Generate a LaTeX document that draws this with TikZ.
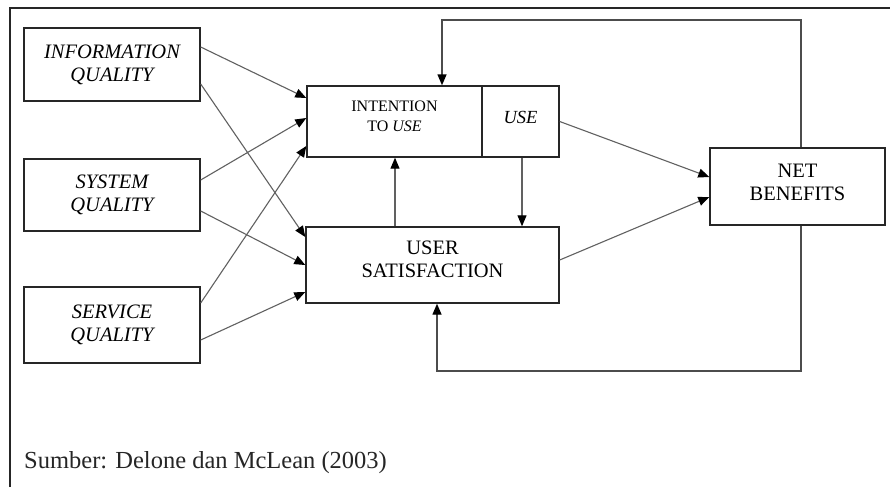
\documentclass[tikz,border=0pt]{standalone}
\usepackage{fontspec}
\setmainfont{Liberation Serif}
\usetikzlibrary{arrows.meta}

\tikzset{
  box/.style={draw=black!85, line width=1.4pt, rectangle, inner sep=0pt,
              align=center, font=\fontsize{20.5}{23}\selectfont},
  arr/.style={draw=black!62, line width=1.1pt,
              -{Triangle[length=11pt,width=9pt,fill=black,color=black]}},
  loopline/.style={draw=black!70, line width=1.4pt,
              -{Triangle[length=11pt,width=9pt,fill=black,color=black]}},
}

\begin{document}
\begin{tikzpicture}[x=1pt,y=-1pt]
  % canvas
  \useasboundingbox (0,0) rectangle (890,487);
  \fill[white] (0,0) rectangle (890,487);

  % outer frame: left and top edges only
  \draw[black!85, line width=2pt] (10,487) -- (10,8) -- (890,8);

  % independent constructs
  \node[box, minimum width=176pt, minimum height=73pt] (iq) at (112,64.5)
       {\itshape INFORMATION\\\itshape QUALITY};
  \node[box, minimum width=176pt, minimum height=72pt] (sq) at (112,195)
       {\itshape SYSTEM\\\itshape QUALITY};
  \node[box, minimum width=176pt, minimum height=76pt] (svq) at (112,325)
       {\itshape SERVICE\\\itshape QUALITY};

  % intention to use / use
  \node[box, minimum width=175pt, minimum height=71pt,
        font=\fontsize{16}{20}\selectfont, text depth=10pt] (itu) at (394.5,121.5)
       {INTENTION\\TO \textit{USE}};
  \node[box, minimum width=77pt, minimum height=71pt,
        font=\fontsize{18.5}{22}\selectfont\itshape, text depth=8pt] (use) at (520.5,121.5)
       {USE};

  % user satisfaction
  \node[box, minimum width=253pt, minimum height=76pt, text depth=12pt] (us) at (432.5,265)
       {USER\\SATISFACTION};

  % net benefits
  \node[box, minimum width=175pt, minimum height=77pt, text depth=8pt] (nb) at (797.5,186.5)
       {NET\\BENEFITS};

  % quality -> intention / satisfaction
  \draw[arr] ([yshift=17.5pt]iq.east) -- ([yshift=23.5pt]itu.west);
  \draw[arr] ([yshift=-19.5pt]iq.east) -- ([yshift=28pt]us.west);
  \draw[arr] ([yshift=15pt]sq.east) -- ([yshift=3.5pt]itu.west);
  \draw[arr] ([yshift=-16pt]sq.east) -- (us.west);
  \draw[arr] ([yshift=22pt]svq.east) -- ([yshift=-24.5pt]itu.west);
  \draw[arr] ([yshift=-15pt]svq.east) -- ([yshift=-27pt]us.west);

  % links between intention/use and satisfaction
  \coordinate (usup) at ([xshift=-37.5pt]us.north);
  \draw[arr] (usup) -- (usup |- itu.south);
  \coordinate (usedown) at ([xshift=1.5pt]use.south);
  \draw[arr] (usedown) -- (usedown |- us.north);

  % use / satisfaction -> net benefits
  \draw[arr] (use.east) -- ([yshift=9.5pt]nb.west);
  \draw[arr] ([yshift=5pt]us.east) -- ([yshift=-10.5pt]nb.west);

  % feedback loops from net benefits
  \coordinate (topy) at (0,20);
  \coordinate (boty) at (0,371);
  \coordinate (nbt) at ([xshift=3.5pt]nb.north);
  \coordinate (nbb) at ([xshift=3.5pt]nb.south);
  \coordinate (itut) at ([xshift=47.5pt]itu.north);
  \coordinate (usb) at ([xshift=4.5pt]us.south);
  \draw[loopline] (nbt) -- (nbt |- topy) -- (itut |- topy) -- (itut);
  \draw[loopline] (nbb) -- (nbb |- boty) -- (usb |- boty) -- (usb);

  % source note
  \node[anchor=base west, inner sep=0pt, font=\fontsize{24.5}{28}\selectfont,
        text=black!85] (src) at (24,468) {Sumber: Delone dan McLean (2003)};
\end{tikzpicture}
\end{document}
